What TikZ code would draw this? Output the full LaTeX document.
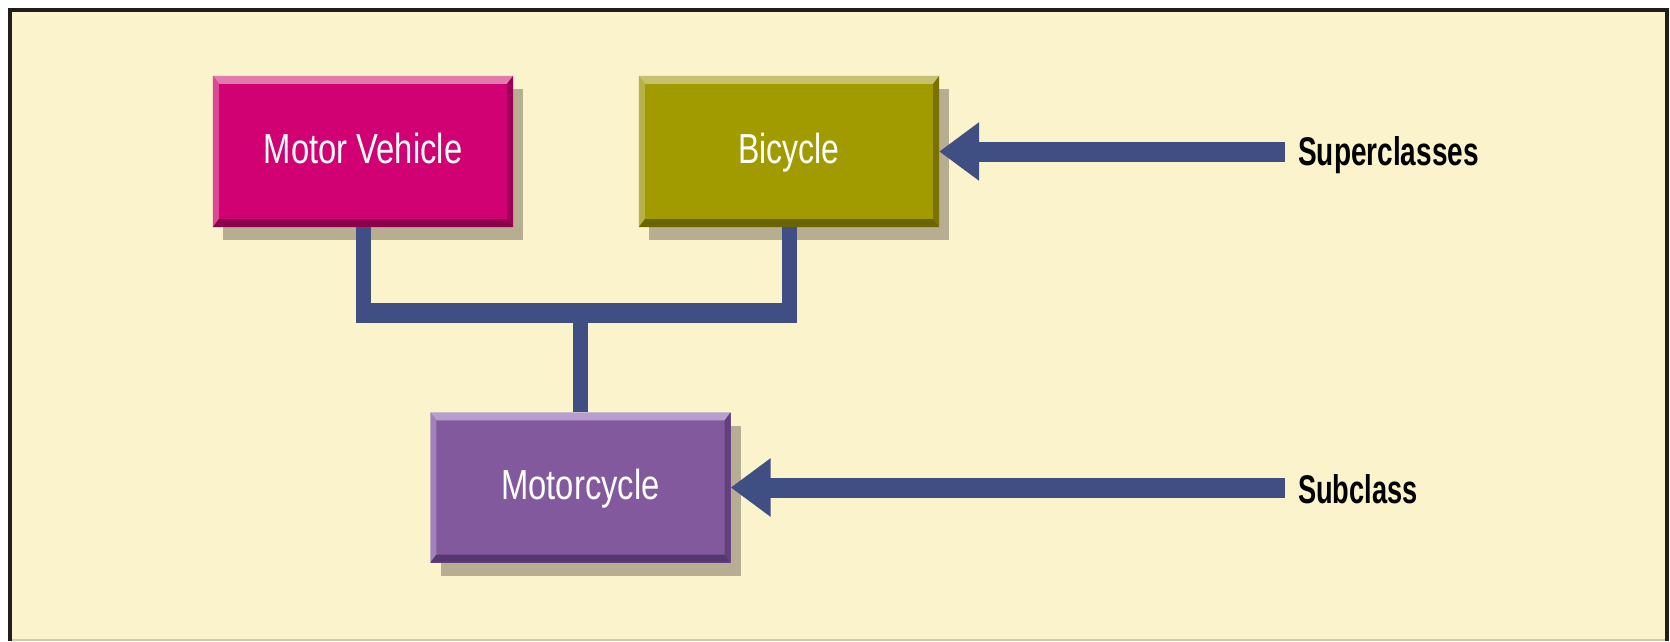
\documentclass[tikz,border=0pt]{standalone}
\usepackage{fontspec}
\setmainfont{Liberation Sans}
\usetikzlibrary{arrows.meta,shadows,calc}

\definecolor{paper}{RGB}{251,243,204}
\definecolor{framecol}{RGB}{30,30,30}
\definecolor{edgeline}{RGB}{205,203,175}
\definecolor{linkcol}{RGB}{63,78,131}
\definecolor{shadowcol}{RGB}{183,173,144}
\definecolor{mvmain}{RGB}{209,0,115}
\definecolor{mvlight}{RGB}{226,122,172}
\definecolor{mvdark}{RGB}{140,0,76}
\definecolor{bcmain}{RGB}{161,155,0}
\definecolor{bclight}{RGB}{198,194,112}
\definecolor{bcdark}{RGB}{106,101,0}
\definecolor{mcmain}{RGB}{131,89,158}
\definecolor{mclight}{RGB}{182,158,206}
\definecolor{mcdark}{RGB}{86,56,112}

% bevelled rim of a class box: light top/left, dark bottom/right
% #4 = rim depth at top and bottom, #5 = rim depth at the sides
\newcommand\bevelbox[5]{%
  \fill[#2] (#1.north west) -- (#1.north east) -- ($(#1.north east)+(-#5,#4)$)
    -- ($(#1.north west)+(#5,#4)$) -- cycle;
  \fill[#2!60!#1main] (#1.north west) -- ($(#1.north west)+(#5,#4)$)
    -- ($(#1.south west)+(#5,-#4)$) -- (#1.south west) -- cycle;
  \fill[#3] (#1.south west) -- ($(#1.south west)+(#5,-#4)$)
    -- ($(#1.south east)+(-#5,-#4)$) -- (#1.south east) -- cycle;
  \fill[#3!75!#1main] (#1.north east) -- (#1.south east) -- ($(#1.south east)+(-#5,-#4)$)
    -- ($(#1.north east)+(-#5,#4)$) -- cycle;
}

\begin{document}
\begin{tikzpicture}[x=1pt,y=-1pt,
  classbox/.style={minimum width=300pt, minimum height=151pt, inner sep=0pt,
    text=white, text height=30pt, text depth=7pt,
    font=\fontsize{42}{48}\selectfont,
    drop shadow={shadow xshift=10pt, shadow yshift=-13pt, fill=shadowcol, opacity=1}},
  tag/.style={inner sep=0pt, anchor=base west, text=black,
    font=\fontsize{40}{46}\selectfont\bfseries},
  link/.style={draw=linkcol, line width=15pt},
  pointer/.style={draw=linkcol, line width=20pt,
    -{Triangle[length=40pt,width=56pt]}, fill=linkcol}]

\useasboundingbox (0,0) rectangle (1670,641);

% panel
\fill[white] (0,0) rectangle (1670,641);
\fill[paper] (10,9.5) rectangle (1667,639);
\draw[edgeline, line width=2pt] (10,639.5) -- (1667,639.5);
\draw[framecol, line width=4pt] (10,641) -- (10,9.5) -- (1667,9.5) -- (1667,641);

% class boxes
\node[classbox, fill=mvmain] (mv) at (363,151.5) {\scalebox{0.78}[1]{Motor Vehicle}};
\node[classbox, fill=bcmain] (bc) at (789,151.5) {\scalebox{0.76}[1]{Bicycle}};
\node[classbox, fill=mcmain, minimum height=150pt] (mc) at (580.5,487.5) {\scalebox{0.78}[1]{Motorcycle}};

\bevelbox{mv}{mvlight}{mvdark}{8}{6}
\bevelbox{bc}{bclight}{bcdark}{8}{6}
\bevelbox{mc}{mclight}{mcdark}{8}{6}

% inheritance connector
\coordinate (barlevel) at (0,313);
\draw[link] (mv.south) -- (mv.south |- barlevel);
\draw[link] (bc.south) -- (bc.south |- barlevel);
\draw[link, line width=20pt, shorten <=-7.5pt, shorten >=-7.5pt]
  (mv.south |- barlevel) -- (bc.south |- barlevel);
\draw[link] (mc.north |- barlevel) -- (mc.north);

% labels and pointers
\node[tag] (sup) at (1298,165) {\scalebox{0.70}[1]{Superclasses}};
\node[tag] (sub) at (1298,503) {\scalebox{0.68}[1]{Subclass}};
\coordinate (supstart) at (1285,151.5);
\coordinate (substart) at (1285,487.5);
\draw[pointer] (supstart) -- (bc.east);
\draw[pointer] (substart) -- (mc.east);

\end{tikzpicture}
\end{document}
